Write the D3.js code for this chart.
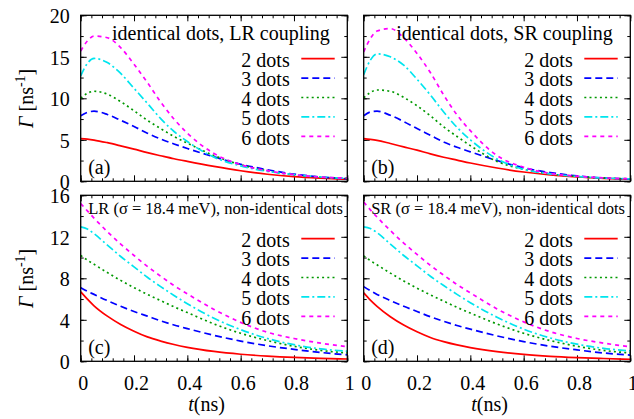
<!DOCTYPE html>
<html>
<head>
<meta charset="utf-8">
<script src="https://cdn.jsdelivr.net/npm/d3@7"></script>
<style>
  body { margin: 0; background: #fff; }
  svg { display: block; }
</style>
</head>
<body>
<svg id="chart" width="634" height="419"></svg>
<script>
// time grid shared by every curve (ns)
const tGrid = [0, 0.025, 0.05, 0.1, 0.15, 0.2, 0.25, 0.3, 0.35, 0.4, 0.5, 0.6, 0.7, 0.8, 0.9, 1.0];

// (a) identical dots, LR coupling
const idLR2 = [5.15, 5.08, 4.97, 4.65, 4.27, 3.87, 3.45, 3.08, 2.72, 2.4, 1.8, 1.27, 0.85, 0.56, 0.38, 0.25];
const idLR3 = [7.9, 8.3, 8.45, 8.05, 7.35, 6.6, 5.8, 5.1, 4.5, 3.95, 2.95, 2.05, 1.4, 0.86, 0.52, 0.31];
const idLR4 = [10.0, 10.6, 10.85, 10.5, 9.6, 8.5, 7.35, 6.35, 5.4, 4.6, 3.1, 2.0, 1.25, 0.78, 0.5, 0.34];
const idLR5 = [12.7, 14.2, 14.8, 14.3, 13.0, 11.2, 9.4, 7.55, 6.0, 4.8, 2.9, 1.85, 1.2, 0.8, 0.52, 0.36];
const idLR6 = [15.7, 16.9, 17.5, 17.3, 16.1, 14.1, 11.9, 9.56, 7.5, 5.8, 3.35, 2.0, 1.28, 0.8, 0.52, 0.38];

// (b) identical dots, SR coupling
const idSR2 = [5.14, 5.05, 4.93, 4.55, 4.15, 3.75, 3.3, 2.9, 2.55, 2.2, 1.6, 1.12, 0.76, 0.52, 0.36, 0.25];
const idSR3 = [7.9, 8.35, 8.45, 7.95, 7.2, 6.35, 5.55, 4.74, 4.1, 3.55, 2.5, 1.62, 1.05, 0.65, 0.4, 0.28];
const idSR4 = [10.05, 10.7, 11.0, 10.85, 10.1, 9.1, 7.9, 6.55, 5.4, 4.3, 2.4, 1.45, 0.88, 0.58, 0.4, 0.3];
const idSR5 = [12.85, 14.6, 15.35, 15.0, 14.0, 12.3, 10.4, 8.35, 6.5, 5.0, 2.7, 1.45, 0.9, 0.58, 0.4, 0.3];
const idSR6 = [15.6, 17.2, 18.1, 18.4, 17.3, 15.4, 13.1, 10.4, 8.0, 6.1, 3.1, 1.7, 0.95, 0.62, 0.42, 0.3];

// (c) LR, sigma = 18.4 meV, non-identical dots
const nonLR2 = [6.7, 6.0, 5.35, 4.35, 3.55, 2.9, 2.35, 1.95, 1.62, 1.35, 0.95, 0.68, 0.5, 0.37, 0.28, 0.22];
const nonLR3 = [7.1, 6.75, 6.45, 5.85, 5.3, 4.8, 4.35, 3.9, 3.5, 3.15, 2.5, 1.95, 1.5, 1.15, 0.85, 0.62];
const nonLR4 = [10.2, 9.75, 9.35, 8.55, 7.8, 7.1, 6.45, 5.85, 5.25, 4.7, 3.6, 2.7, 2.0, 1.45, 1.05, 0.8];
const nonLR5 = [12.95, 12.75, 12.3, 11.2, 10.1, 9.1, 8.1, 7.2, 6.35, 5.55, 4.15, 3.05, 2.2, 1.6, 1.2, 0.98];
const nonLR6 = [15.2, 14.5, 13.8, 12.5, 11.3, 10.2, 9.15, 8.2, 7.3, 6.5, 5.0, 3.75, 2.8, 2.2, 1.75, 1.4];

// (d) SR, sigma = 18.4 meV, non-identical dots
const nonSR2 = [6.6, 5.9, 5.3, 4.3, 3.5, 2.85, 2.3, 1.9, 1.58, 1.32, 0.93, 0.66, 0.48, 0.36, 0.27, 0.2];
const nonSR3 = [7.2, 6.8, 6.45, 5.85, 5.3, 4.8, 4.3, 3.85, 3.45, 3.1, 2.45, 1.9, 1.45, 1.1, 0.8, 0.6];
const nonSR4 = [10.15, 9.7, 9.3, 8.5, 7.75, 7.05, 6.4, 5.8, 5.2, 4.65, 3.6, 2.7, 2.0, 1.45, 1.05, 0.8];
const nonSR5 = [12.95, 12.8, 12.4, 11.3, 10.2, 9.2, 8.2, 7.3, 6.45, 5.65, 4.25, 3.1, 2.25, 1.65, 1.25, 1.0];
const nonSR6 = [15.35, 14.6, 13.9, 12.6, 11.4, 10.3, 9.25, 8.3, 7.4, 6.6, 5.05, 3.8, 2.85, 2.2, 1.75, 1.4];

const seriesNames = ["2 dots", "3 dots", "4 dots", "5 dots", "6 dots"];
const xTicks = [0, 0.2, 0.4, 0.6, 0.8, 1];
const yTicksTop = [0, 5, 10, 15, 20];
const yTicksBottom = [0, 4, 8, 12, 16];

const colors = ["#ff0000", "#0000ff", "#009900", "#00e5ee", "#ff00ff"];
const dashes = [null, "7,4", "2,3.2", "8,3,2,3", "4,4"];
const serif = '"Liberation Serif"';

const svg = d3.select("#chart");
const W = 266.6, H = 166;

const panels = [
  { left: 80.7, top: 15.3, ymax: 20, yTicks: yTicksTop, ystep: 2.5, data: [idLR2, idLR3, idLR4, idLR5, idLR6], tag: "(a)", title: "identical dots, LR coupling", big: true, yLab: true, xLab: false },
  { left: 363.7, top: 15.3, ymax: 20, yTicks: yTicksTop, ystep: 2.5, data: [idSR2, idSR3, idSR4, idSR5, idSR6], tag: "(b)", title: "identical dots, SR coupling", big: true, yLab: false, xLab: false },
  { left: 80.7, top: 195.3, ymax: 16, yTicks: yTicksBottom, ystep: 2, data: [nonLR2, nonLR3, nonLR4, nonLR5, nonLR6], tag: "(c)", title: "LR (σ = 18.4 meV), non-identical dots", big: false, yLab: true, xLab: true },
  { left: 363.7, top: 195.3, ymax: 16, yTicks: yTicksBottom, ystep: 2, data: [nonSR2, nonSR3, nonSR4, nonSR5, nonSR6], tag: "(d)", title: "SR (σ = 18.4 meV), non-identical dots", big: false, yLab: false, xLab: true }
];

panels.forEach((p, pi) => drawPanel(p, pi));

// every text in the serif face
svg.selectAll("text").style("font-family", serif);

function drawPanel(p, pi) {
  let x = d3.scaleLinear([0, 1], [p.left, p.left + W]);
  let y = d3.scaleLinear([0, p.ymax], [p.top + H, p.top]);
  let bottom = p.top + H, right = p.left + W;

  let minorX = d3.range(0, 1.0001, 0.04);
  let minorY = d3.range(0, p.ymax + 0.001, p.ystep);

  // ticks on all four sides, pointing inward
  let tickSets = [
    [d3.axisBottom(x).tickValues(minorX).tickSize(-3).tickFormat(""), `translate(0,${bottom})`],
    [d3.axisTop(x).tickValues(minorX).tickSize(-3).tickFormat(""), `translate(0,${p.top})`],
    [d3.axisLeft(y).tickValues(minorY).tickSize(-3).tickFormat(""), `translate(${p.left},0)`],
    [d3.axisRight(y).tickValues(minorY).tickSize(-3).tickFormat(""), `translate(${right},0)`],
    [d3.axisTop(x).tickValues(xTicks).tickSize(-6).tickFormat(""), `translate(0,${p.top})`],
    [d3.axisRight(y).tickValues(p.yTicks).tickSize(-6).tickFormat(""), `translate(${right},0)`]
  ];
  tickSets.forEach(([ax, tr]) => {
    let g = svg.append("g").attr("transform", tr).call(ax);
    g.select(".domain").remove();
    g.selectAll("text").remove();
    g.selectAll("line").attr("stroke", "#000").attr("stroke-width", 1);
  });

  let xAx = d3.axisBottom(x).tickValues(xTicks).tickSize(-6).tickPadding(14.5)
    .tickFormat(p.xLab ? d3.format("") : "");
  let gx = svg.append("g").attr("transform", `translate(0,${bottom})`).call(xAx);
  gx.select(".domain").remove();
  gx.selectAll("line").attr("stroke", "#000");
  if (p.xLab) gx.selectAll("text").attr("font-size", 20).attr("fill", "#000").attr("dx", 2);
  else gx.selectAll("text").remove();

  let yAx = d3.axisLeft(y).tickValues(p.yTicks).tickSize(-6).tickPadding(11)
    .tickFormat(p.yLab ? d3.format("") : "");
  let gy = svg.append("g").attr("transform", `translate(${p.left},0)`).call(yAx);
  gy.select(".domain").remove();
  gy.selectAll("line").attr("stroke", "#000");
  if (p.yLab) gy.selectAll("text").attr("font-size", 20).attr("fill", "#000").attr("dy", "0.36em");
  else gy.selectAll("text").remove();

  // curves
  let clipId = "clip" + pi;
  svg.append("clipPath").attr("id", clipId).append("rect")
    .attr("x", p.left).attr("y", p.top).attr("width", W).attr("height", H);
  let line = d3.line().x((d, i) => x(tGrid[i])).y(d => y(d)).curve(d3.curveMonotoneX);
  let gc = svg.append("g").attr("clip-path", `url(#${clipId})`);
  p.data.forEach((vals, k) => {
    gc.append("path").datum(vals).attr("d", line)
      .attr("fill", "none").attr("stroke", colors[k]).attr("stroke-width", 1.7)
      .attr("stroke-dasharray", dashes[k]);
  });

  // title inside the panel
  if (p.big) {
    svg.append("text").attr("x", right - 17.5).attr("y", p.top + 25)
      .attr("text-anchor", "end").attr("font-size", 20).text(p.title);
  } else {
    svg.append("text").attr("x", p.left + 7.5).attr("y", p.top + 18.4)
      .attr("font-size", 16.5).text(p.title);
  }

  // legend
  seriesNames.forEach((name, k) => {
    let yb = p.top + 51.7 + k * 19.4;
    svg.append("text").attr("x", p.left + 209).attr("y", yb)
      .attr("text-anchor", "end").attr("font-size", 20).text(name);
    svg.append("line").attr("x1", p.left + 220.6).attr("x2", p.left + 254)
      .attr("y1", yb - 8.3).attr("y2", yb - 8.3)
      .attr("stroke", colors[k]).attr("stroke-width", 1.7)
      .attr("stroke-dasharray", dashes[k]);
  });

  svg.append("text").attr("x", p.left + 7.5).attr("y", bottom - 7.3)
    .attr("font-size", 20).text(p.tag);

  // frame
  svg.append("rect").attr("x", p.left).attr("y", p.top).attr("width", W).attr("height", H)
    .attr("fill", "none").attr("stroke", "#000").attr("stroke-width", 1.3);

  if (p.yLab) {
    let cy = p.top + H / 2;
    let t = svg.append("text").attr("transform", `translate(33,${cy}) rotate(-90)`)
      .attr("text-anchor", "middle").attr("font-size", 20);
    t.append("tspan").attr("font-style", "italic").text("Γ");
    t.append("tspan").text(" [ns");
    t.append("tspan").attr("font-size", 14).attr("dy", -8).text("-1");
    t.append("tspan").attr("dy", 8).text("]");
  }
  if (p.xLab) {
    let t = svg.append("text").attr("x", p.left + W / 2 - 7.5).attr("y", 411)
      .attr("text-anchor", "middle").attr("font-size", 20);
    t.append("tspan").attr("font-style", "italic").text("t");
    t.append("tspan").text("(ns)");
  }
}
</script>
</body>
</html>
